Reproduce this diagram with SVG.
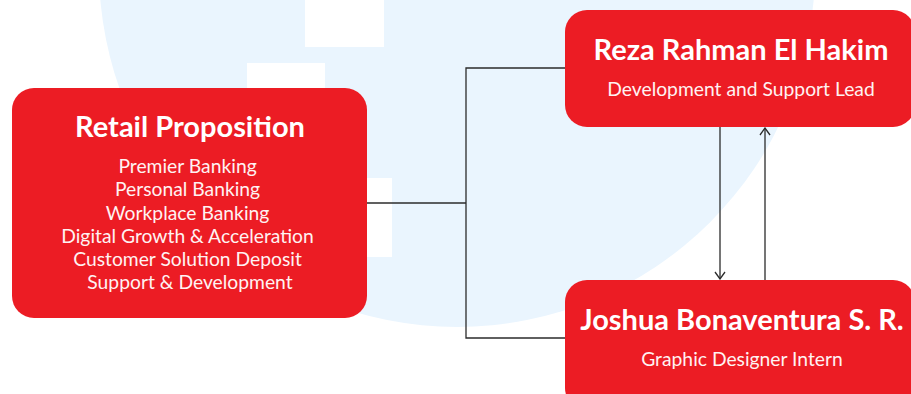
<svg xmlns="http://www.w3.org/2000/svg" width="911" height="394" viewBox="0 0 911 394">
  <style>
    .box { fill: #EC1C24; }
    .title { font-family: Lato, "Open Sans", sans-serif; font-weight: 700; fill: #FFFFFF; text-anchor: middle; font-size: 29px; }
    .sub { font-family: Lato, "Open Sans", sans-serif; font-weight: 400; fill: #FFF2F2; text-anchor: middle; font-size: 19.3px; }
    .conn { fill: none; stroke: #2B2B2B; stroke-width: 1.3; }
  </style>
  <defs>
    <marker id="arrow" viewBox="0 0 10 12" refX="9" refY="6" markerWidth="10" markerHeight="12" markerUnits="userSpaceOnUse" orient="auto">
      <path d="M2,1 L9,6 L2,11" fill="none" stroke="#2B2B2B" stroke-width="1.3"/>
    </marker>
  </defs>
  <rect x="0" y="0" width="911" height="394" fill="#FFFFFF"/>
  <g id="background">
    <circle cx="457" cy="-31" r="358" fill="#EAF5FE"/>
    <rect x="305" y="0" width="79" height="47" fill="#FFFFFF"/>
    <rect x="247" y="63" width="78" height="40" fill="#FFFFFF"/>
    <rect x="330" y="178" width="62" height="79" fill="#FFFFFF"/>
  </g>
  <g id="connectors">
    <polyline class="conn" points="367,203 466,203"/>
    <polyline class="conn" points="565,68 466,68 466,338 565,338"/>
    <line class="conn" x1="720" y1="127" x2="720" y2="279" marker-end="url(#arrow)"/>
    <line class="conn" x1="765" y1="280" x2="765" y2="128" marker-end="url(#arrow)"/>
  </g>
  <g id="retail-proposition">
    <rect class="box" x="12" y="88" width="355" height="230" rx="22"/>
    <text class="title" x="190" y="137">Retail Proposition</text>
    <text class="sub">
      <tspan x="190" y="173">Premier Banking</tspan>
      <tspan x="190" y="196">Personal Banking</tspan>
      <tspan x="190" y="220">Workplace Banking</tspan>
      <tspan x="190" y="243">Digital Growth &amp; Acceleration</tspan>
      <tspan x="190" y="266">Customer Solution Deposit</tspan>
      <tspan x="190" y="289">Support &amp; Development</tspan>
    </text>
  </g>
  <g id="reza">
    <rect class="box" x="565" y="10" width="350" height="117" rx="22"/>
    <text class="title" x="741" y="60">Reza Rahman El Hakim</text>
    <text class="sub" x="741" y="96">Development and Support Lead</text>
  </g>
  <g id="joshua">
    <rect class="box" x="565" y="280" width="350" height="130" rx="22"/>
    <text class="title" x="742" y="330">Joshua Bonaventura S. R.</text>
    <text class="sub" x="742" y="366">Graphic Designer Intern</text>
  </g>
</svg>
